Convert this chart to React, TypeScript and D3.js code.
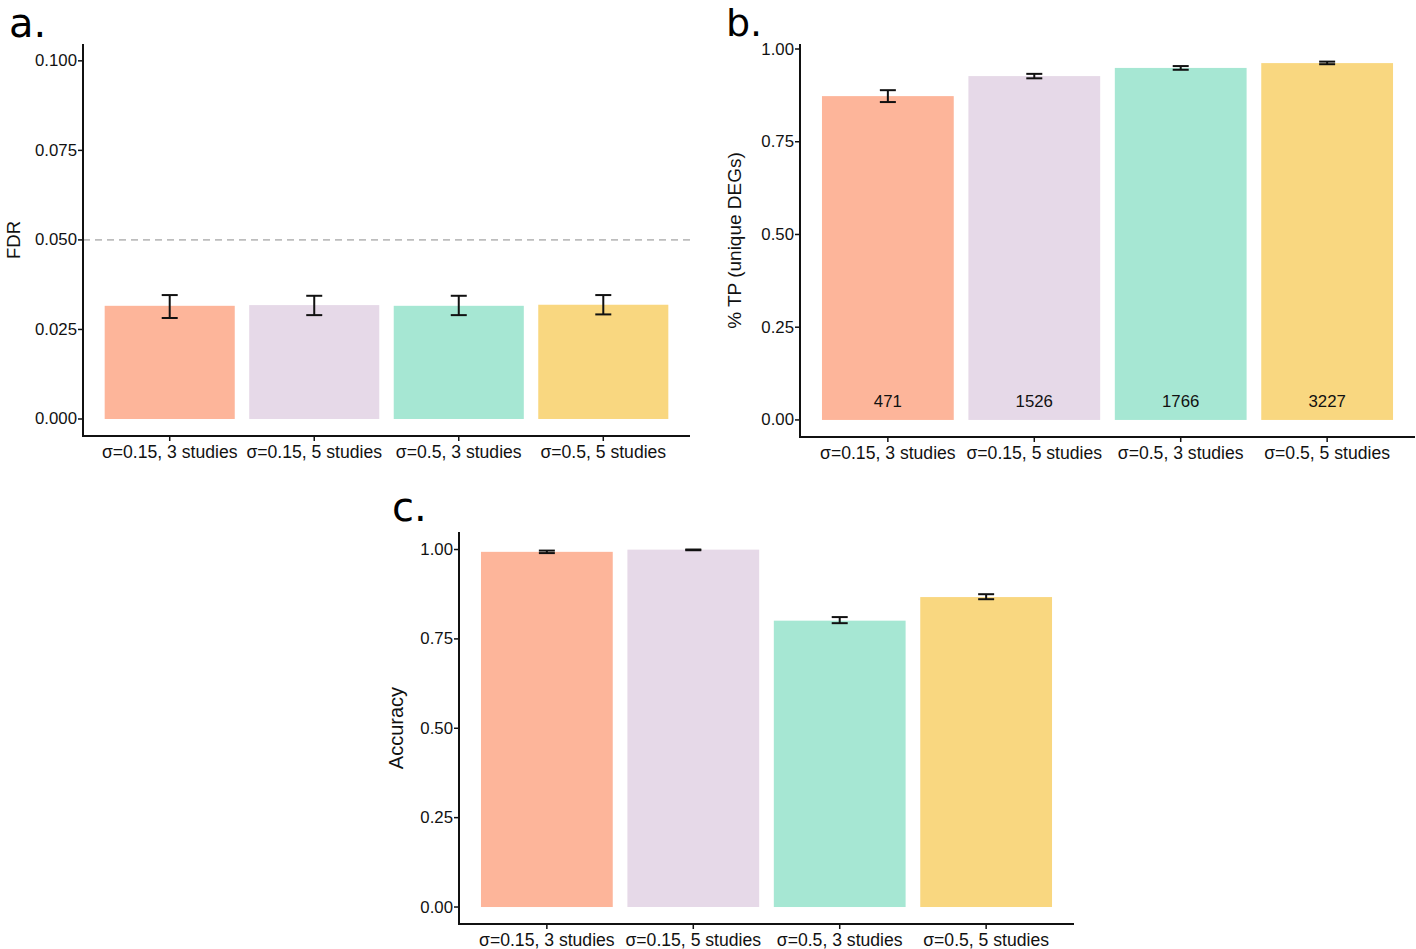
import React from "react";
import * as d3 from "d3";

const categories = ["σ=0.15, 3 studies", "σ=0.15, 5 studies", "σ=0.5, 3 studies", "σ=0.5, 5 studies"];
const colors = ["#FDB59A", "#E6D9E8", "#A6E7D3", "#F9D780"];

const fdrValues = [0.0316, 0.0318, 0.0316, 0.0319];
const fdrLow = [0.0282, 0.0290, 0.0290, 0.0292];
const fdrHigh = [0.0346, 0.0344, 0.0344, 0.0346];
const fdrTicks = [0, 0.025, 0.05, 0.075, 0.1];

const tpValues = [0.873, 0.927, 0.949, 0.962];
const tpLow = [0.857, 0.921, 0.944, 0.959];
const tpHigh = [0.889, 0.933, 0.954, 0.966];
const tpCounts = ["471", "1526", "1766", "3227"];
const tpTicks = [0, 0.25, 0.5, 0.75, 1.0];

const accValues = [0.9935, 0.9997, 0.801, 0.867];
const accLow = [0.990, 0.998, 0.794, 0.861];
const accHigh = [0.997, 1.0, 0.811, 0.875];
const accTicks = [0, 0.25, 0.5, 0.75, 1.0];

type PanelProps = {
  left: number; right: number; top: number; bottom: number;
  domain: [number, number];
  values: number[]; low: number[]; high: number[];
  ticks: number[]; tickFmt: (v: number) => string;
  ylabel: string; ylabelX: number; ylabelSize: number;
  letter: string; letterX: number; letterY: number; letterSize: number;
  counts?: string[];
  refLine?: number;
};

function Panel(p: PanelProps) {
  const y = d3.scaleLinear().domain(p.domain).range([p.bottom, p.top]);
  const step = (p.right - p.left) / (categories.length + 0.2);
  const x = d3.scaleBand<string>().domain(categories)
    .range([p.left + 0.1 * step, p.right - 0.1 * step]).paddingInner(0.1).paddingOuter(0.05);
  const bw = x.bandwidth();
  const font = "Liberation Sans, Arial, sans-serif";
  return (
    <g>
      <text x={p.letterX} y={p.letterY} fontFamily="DejaVu Sans, Verdana, sans-serif" fontSize={p.letterSize}>{p.letter}</text>
      {p.refLine !== undefined && (
        <line x1={p.left} x2={p.right} y1={y(p.refLine)} y2={y(p.refLine)} stroke="#BDBDBD" strokeWidth={1.6} strokeDasharray="7,5" />
      )}
      {categories.map((c, i) => {
        const cx = (x(c) as number) + bw / 2;
        return (
          <g key={c}>
            <rect x={x(c)} y={y(p.values[i])} width={bw} height={y(0) - y(p.values[i])} fill={colors[i]} />
            <line x1={cx} x2={cx} y1={y(p.low[i])} y2={y(p.high[i])} stroke="#111" strokeWidth={2} />
            <line x1={cx - 8} x2={cx + 8} y1={y(p.low[i])} y2={y(p.low[i])} stroke="#111" strokeWidth={2} />
            <line x1={cx - 8} x2={cx + 8} y1={y(p.high[i])} y2={y(p.high[i])} stroke="#111" strokeWidth={2} />
            {p.counts && (
              <text x={cx} y={y(0) - 18} textAnchor="middle" dominantBaseline="central" fontFamily={font} fontSize={16.8} fill="#111">{p.counts[i]}</text>
            )}
            <line x1={cx} x2={cx} y1={p.bottom} y2={p.bottom + 5} stroke="#111" strokeWidth={1.5} />
            <text x={cx} y={p.bottom + 16} textAnchor="middle" dominantBaseline="central" fontFamily={font} fontSize={17.6} fill="#111">{c}</text>
          </g>
        );
      })}
      {p.ticks.map((t) => (
        <g key={t}>
          <line x1={p.left - 5} x2={p.left} y1={y(t)} y2={y(t)} stroke="#111" strokeWidth={1.5} />
          <text x={p.left - 6} y={y(t)} textAnchor="end" dominantBaseline="central" fontFamily={font} fontSize={16.8} fill="#111">{p.tickFmt(t)}</text>
        </g>
      ))}
      <line x1={p.left} x2={p.left} y1={p.top} y2={p.bottom + 1} stroke="#111" strokeWidth={2} />
      <line x1={p.left - 1} x2={p.right} y1={p.bottom} y2={p.bottom} stroke="#111" strokeWidth={2} />
      <text transform={`translate(${p.ylabelX},${(p.top + p.bottom) / 2}) rotate(-90)`} textAnchor="middle" dominantBaseline="central" fontFamily={font} fontSize={p.ylabelSize} fill="#111">{p.ylabel}</text>
    </g>
  );
}

export default function App() {
  return (
    <svg width={1416} height={949} style={{ position: "absolute", left: 0, top: 0, background: "#fff" }}>
      <rect width={1416} height={949} fill="#fff" />
      <Panel left={83} right={690} top={44} bottom={436} domain={[-0.00475, 0.1047]}
        values={fdrValues} low={fdrLow} high={fdrHigh} ticks={fdrTicks} tickFmt={d3.format(".3f")}
        ylabel="FDR" ylabelX={13} ylabelSize={18.5} letter="a." letterX={9} letterY={37} letterSize={40} refLine={0.05} />
      <Panel left={800} right={1415} top={44} bottom={437} domain={[-0.046, 1.0135]}
        values={tpValues} low={tpLow} high={tpHigh} ticks={tpTicks} tickFmt={d3.format(".2f")}
        ylabel="% TP (unique DEGs)" ylabelX={734} ylabelSize={19} letter="b." letterX={726} letterY={36} letterSize={38} counts={tpCounts} />
      <Panel left={459} right={1074} top={532} bottom={924} domain={[-0.0475, 1.049]}
        values={accValues} low={accLow} high={accHigh} ticks={accTicks} tickFmt={d3.format(".2f")}
        ylabel="Accuracy" ylabelX={396} ylabelSize={20} letter="c." letterX={392} letterY={521} letterSize={40} />
    </svg>
  );
}
